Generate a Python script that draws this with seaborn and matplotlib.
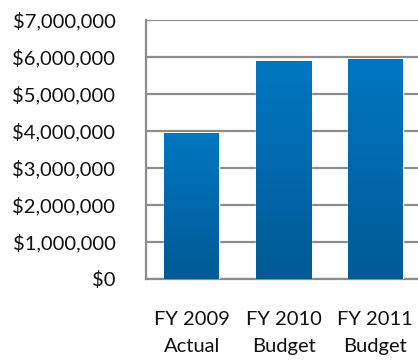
import matplotlib
matplotlib.use("Agg")
import matplotlib.pyplot as plt
import seaborn as sns
import numpy as np
import pandas as pd
from matplotlib.colors import LinearSegmentedColormap
from matplotlib.ticker import FuncFormatter

categories = ["FY 2009\nActual", "FY 2010\nBudget", "FY 2011\nBudget"]
values = [3950000, 5890000, 5950000]
yticks = [0, 1000000, 2000000, 3000000, 4000000, 5000000, 6000000, 7000000]

sns.set_style("white")
plt.rcParams['font.family'] = ['Lato', 'DejaVu Sans']

W, H = 418, 360
fig = plt.figure(figsize=(W/100, H/100), dpi=100)
ax = fig.add_axes([146/W, (H-279)/H, (421-146)/W, (279-20)/H])

df = pd.DataFrame({"cat": categories, "val": values})
sns.barplot(data=df, x="cat", y="val", ax=ax, color="#0070B5", width=0.6,
            saturation=1, zorder=3)

ax.set_ylim(0, 7000000)
ax.set_xlim(-0.5, 2.5)
ax.set_yticks(yticks)
ax.yaxis.set_major_formatter(FuncFormatter(lambda v, p: "${:,.0f}".format(v)))
ax.grid(axis="y", color="#8c8c8c", linewidth=1.6, zorder=0)
ax.set_axisbelow(True)
ax.set_xlabel("")
ax.set_ylabel("")
for s in ["top", "right"]:
    ax.spines[s].set_visible(False)
for s in ["left", "bottom"]:
    ax.spines[s].set_color("#8c8c8c")
    ax.spines[s].set_linewidth(1.6)
ax.tick_params(axis="y", length=0, pad=22, labelsize=14.5, labelcolor="#111111")
ax.tick_params(axis="x", length=0, pad=23, labelsize=14.5, labelcolor="#111111")
for lab in ax.get_xticklabels():
    lab.set_linespacing(1.7)

# gradient fill
cmap = LinearSegmentedColormap.from_list("g", ["#005A95", "#0077C2"])
grad = np.linspace(0, 1, 256).reshape(-1, 1)
for p in ax.patches:
    x0, y0 = p.get_x(), p.get_y()
    w, h = p.get_width(), p.get_height()
    im = ax.imshow(grad, cmap=cmap, origin="lower", aspect="auto",
                   extent=[x0, x0 + w, y0, y0 + h], zorder=4)
    im.set_clip_path(p)
ax.set_xlim(-0.5, 2.5)
ax.set_ylim(0, 7000000)

fig.savefig("out.png", dpi=100)
